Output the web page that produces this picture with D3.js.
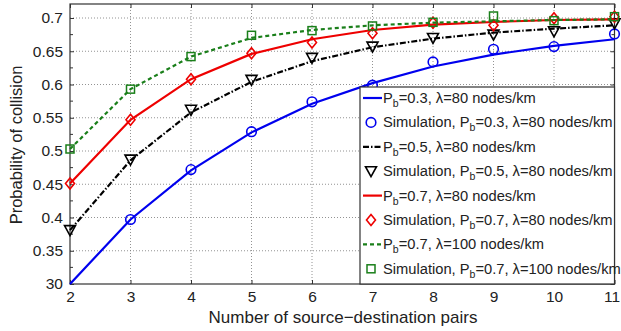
<!DOCTYPE html>
<html>
<head>
<meta charset="utf-8">
<script src="https://cdn.jsdelivr.net/npm/d3@7"></script>
<style>
body{margin:0;background:#fff;}
svg text{font-family:"Liberation Sans",Arial,sans-serif;fill:#222;}
</style>
</head>
<body>
<svg id="chart" width="621" height="331"></svg>
<script>
// number of source-destination pairs
const pairs = [2,3,4,5,6,7,8,9,10,11];
// analytical curves
const pb03 = [0.300,0.397,0.471,0.528,0.571,0.602,0.627,0.645,0.658,0.668];
const pb05 = [0.381,0.486,0.558,0.604,0.635,0.656,0.669,0.678,0.684,0.689];
const pb07 = [0.451,0.547,0.608,0.646,0.668,0.682,0.690,0.694,0.697,0.698];
const pb07l100 = [0.503,0.593,0.642,0.670,0.682,0.689,0.693,0.695,0.697,0.698];
// simulation points
const simPairs03 = [3,4,5,6,7,8,9,10,11];
const sim03 = [0.397,0.472,0.529,0.574,0.599,0.634,0.653,0.657,0.676];
const sim05 = [0.381,0.487,0.562,0.607,0.640,0.657,0.670,0.675,0.680,0.692];
const sim07 = [0.451,0.547,0.608,0.647,0.663,0.677,0.693,0.689,0.6995,0.702];
const sim07l100 = [0.503,0.593,0.642,0.674,0.681,0.688,0.6935,0.703,0.696,0.702];
const yTicks = [0.3,0.35,0.4,0.45,0.5,0.55,0.6,0.65,0.7];
const yTickLabels = ['30','0.35','0.4','0.45','0.5','0.55','0.6','0.65','0.7'];

const svg = d3.select('#chart');
const pLeft = 70, pRight = 614.5, pTop = 4, pBottom = 284;
const x = d3.scaleLinear().domain([2,11]).range([pLeft,pRight]);
const y = d3.scaleLinear().domain([0.3,0.7]).range([pBottom,18]);

// grid
const grid = svg.append('g');
grid.selectAll('line.gx').data(pairs.slice(1,-1)).join('line')
	.attr('x1',d=>x(d)).attr('x2',d=>x(d)).attr('y1',pTop).attr('y2',pBottom)
	.attr('stroke','#777').attr('stroke-width',0.8).attr('stroke-dasharray','1,2');
grid.selectAll('line.gy').data(yTicks.slice(1)).join('line')
	.attr('x1',pLeft).attr('x2',pRight).attr('y1',d=>y(d)).attr('y2',d=>y(d))
	.attr('stroke','#777').attr('stroke-width',0.8).attr('stroke-dasharray','1,2');

// axes with inward ticks
const axL = svg.append('g').attr('transform','translate('+pLeft+',0)')
	.call(d3.axisLeft(y).tickValues(yTicks).tickFormat((d,i)=>yTickLabels[i]).tickSize(-4).tickPadding(7));
const axR = svg.append('g').attr('transform','translate('+pRight+',0)')
	.call(d3.axisRight(y).tickValues(yTicks).tickFormat('').tickSize(-4));
const minor = d3.range(0.325,0.72,0.05);
[pLeft,pRight].forEach(xx=>{
	svg.append('g').selectAll('line').data(minor).join('line')
		.attr('x1',xx).attr('x2',xx + (xx===pLeft?3:-3))
		.attr('y1',d=>y(d)).attr('y2',d=>y(d)).attr('stroke','#333');
});
const axB = svg.append('g').attr('transform','translate(0,'+pBottom+')')
	.call(d3.axisBottom(x).tickValues(pairs).tickFormat(d3.format('d')).tickSize(-4).tickPadding(7));
const axT = svg.append('g').attr('transform','translate(0,'+pTop+')')
	.call(d3.axisTop(x).tickValues(pairs).tickFormat('').tickSize(-4));
[axL,axR,axB,axT].forEach(a=>{
	a.select('.domain').remove();
	a.selectAll('line').attr('stroke','#333');
	a.selectAll('text').style('font-size','15.5px').attr('fill','#222');
});
// keep the last x label inside the page
axB.selectAll('.tick').filter(d=>d===11).select('text').attr('dx',-3);
svg.append('rect').attr('x',pLeft).attr('y',pTop).attr('width',pRight-pLeft).attr('height',pBottom-pTop)
	.attr('fill','none').attr('stroke','#333').attr('stroke-width',1.2);

// titles
svg.append('text').attr('x',343).attr('y',323).attr('text-anchor','middle')
	.style('font-size','17px').text('Number of source\u2212destination pairs');
svg.append('text').attr('transform','translate(22,145) rotate(-90)').attr('text-anchor','middle')
	.style('font-size','16.5px').text('Probability of collision');

const series = [
	{line:pb03, simX:simPairs03, sim:sim03, color:'#0000ee', dash:null, marker:'circle', pb:'0.3', lam:'80'},
	{line:pb05, simX:pairs, sim:sim05, color:'#000000', dash:'6,2,1.5,2', marker:'tri', pb:'0.5', lam:'80'},
	{line:pb07, simX:pairs, sim:sim07, color:'#ee0000', dash:null, marker:'diamond', pb:'0.7', lam:'80'},
	{line:pb07l100, simX:pairs, sim:sim07l100, color:'#1a7f1a', dash:'4,3', marker:'square', pb:'0.7', lam:'100'}
];

const lineGen = d3.line().x((d,i)=>x(pairs[i])).y(d=>y(d));
function drawMarker(g,type,cx,cy,color){
	if(type==='circle'){
		g.append('circle').attr('cx',cx).attr('cy',cy).attr('r',4.8)
			.attr('fill','none').attr('stroke',color).attr('stroke-width',1.6);
	}else if(type==='tri'){
		g.append('path').attr('d','M'+(cx-5.5)+','+(cy-4.5)+'L'+(cx+5.5)+','+(cy-4.5)+'L'+cx+','+(cy+5.5)+'Z')
			.attr('fill','none').attr('stroke',color).attr('stroke-width',1.6);
	}else if(type==='diamond'){
		g.append('path').attr('d','M'+cx+','+(cy-5.5)+'L'+(cx+4.5)+','+cy+'L'+cx+','+(cy+5.5)+'L'+(cx-4.5)+','+cy+'Z')
			.attr('fill','none').attr('stroke',color).attr('stroke-width',1.6);
	}else{
		g.append('rect').attr('x',cx-4).attr('y',cy-4).attr('width',8).attr('height',8)
			.attr('fill','none').attr('stroke',color).attr('stroke-width',1.5);
	}
}

const plot = svg.append('g');
series.forEach(s=>{
	plot.append('path').datum(s.line).attr('d',lineGen)
		.attr('fill','none').attr('stroke',s.color).attr('stroke-width',2.2)
		.attr('stroke-dasharray',s.dash);
	s.sim.forEach((v,i)=>drawMarker(plot,s.marker,x(s.simX[i]),y(v),s.color));
});

// legend
const lx = 360, ly = 87;
const legend = svg.append('g');
legend.append('rect').attr('x',lx).attr('y',ly).attr('width',pRight-lx).attr('height',pBottom-ly)
	.attr('fill','#fff').attr('stroke','#333').attr('stroke-width',1.2);
const rowH = 24.4;
series.forEach((s,i)=>{
	const r1 = ly+11+rowH*(2*i), r2 = r1+rowH;
	legend.append('line').attr('x1',lx+3).attr('x2',lx+22).attr('y1',r1).attr('y2',r1)
		.attr('stroke',s.color).attr('stroke-width',2.2).attr('stroke-dasharray',s.dash);
	const t1 = legend.append('text').attr('x',lx+23).attr('y',r1+5).style('font-size','14.7px');
	t1.append('tspan').text('P');
	t1.append('tspan').attr('dy',4).style('font-size','10.5px').text('b');
	t1.append('tspan').attr('dy',-4).text('='+s.pb+', \u03bb='+s.lam+' nodes/km');
	drawMarker(legend,s.marker,lx+11,r2,s.color);
	const t2 = legend.append('text').attr('x',lx+23).attr('y',r2+5).style('font-size','14.7px');
	t2.append('tspan').text('Simulation, P');
	t2.append('tspan').attr('dy',4).style('font-size','10.5px').text('b');
	t2.append('tspan').attr('dy',-4).text('='+s.pb+', \u03bb='+s.lam+' nodes/km');
});
</script>
</body>
</html>
